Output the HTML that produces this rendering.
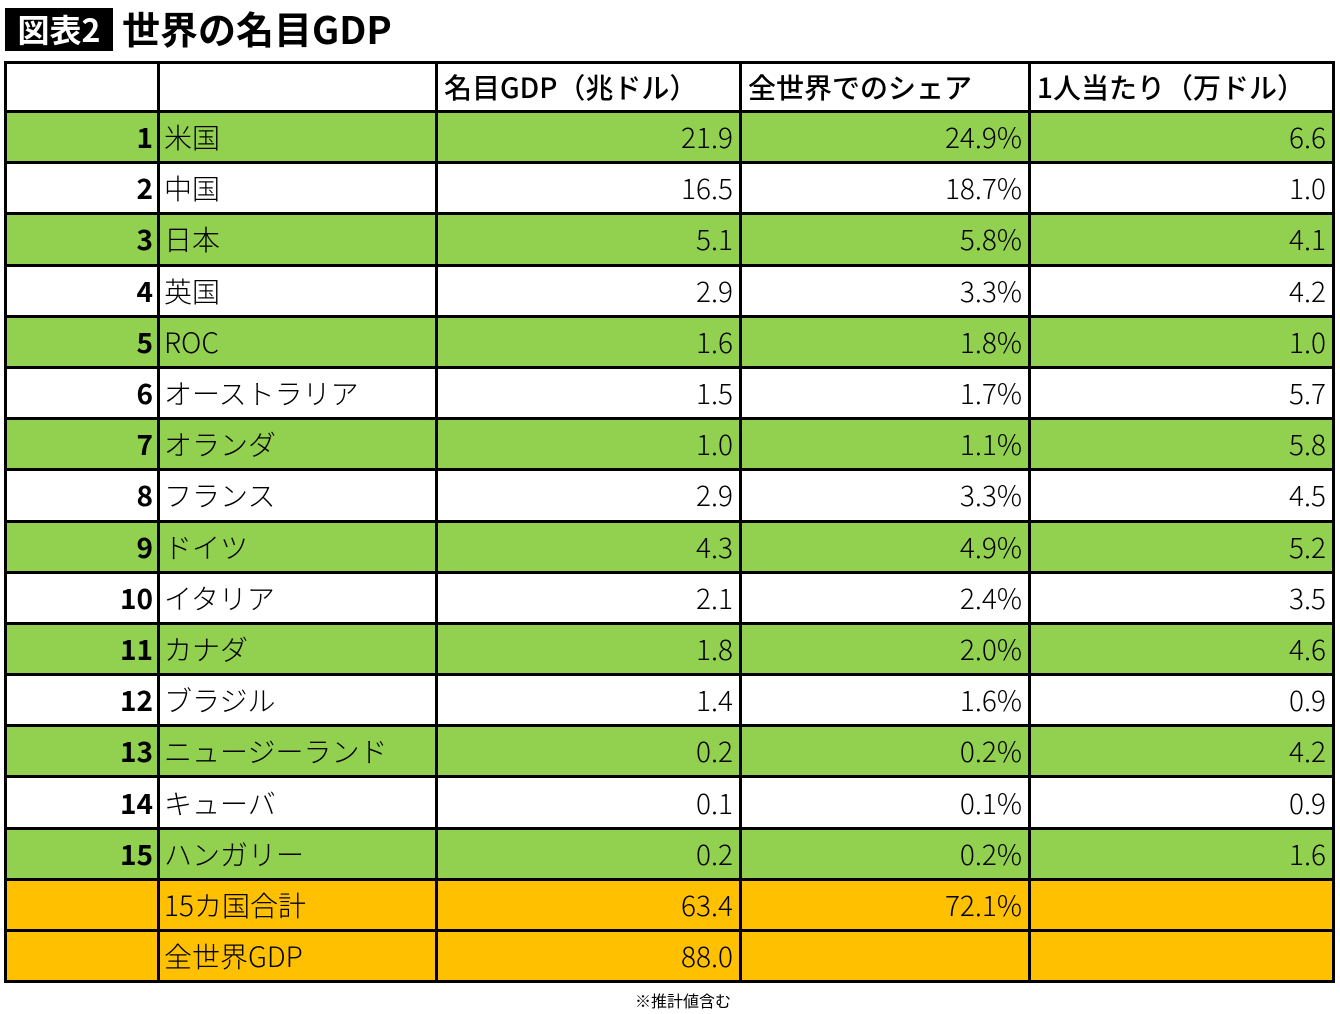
<!DOCTYPE html>
<html><head><meta charset="utf-8">
<style>
body{margin:0;width:1340px;height:1014px;background:#fff;font-family:"Liberation Sans","Noto Sans CJK JP",sans-serif;position:relative;overflow:hidden}
#title-badge{position:absolute;left:5px;top:8px;width:108px;height:43px;background:#000;color:#fff;font-size:32px;font-weight:bold;line-height:43px;text-align:center;font-family:"Noto Sans CJK JP",sans-serif}
#title{position:absolute;left:122px;top:4px;font-size:38px;font-weight:bold;line-height:48px;font-family:"Noto Sans CJK JP",sans-serif}
table{position:absolute;left:4px;top:61px;border-collapse:collapse;table-layout:fixed;width:1328px}
td{border:3px solid #000;font-size:28px;padding:0 6px;box-sizing:border-box;height:51.2px;font-family:"Noto Sans CJK JP",sans-serif;font-weight:300;white-space:nowrap;overflow:hidden;line-height:40px}
tr.hd td{height:49px;font-weight:500}
td.rk{text-align:right;font-weight:bold;padding-right:4px}
td.num{text-align:right;padding-right:6px}
td.nm{padding-left:4px}
tr.g td{background:#92d050}
tr.o td{background:#ffc000}
#note{position:absolute;left:0;width:1366px;top:988px;text-align:center;font-size:16px;font-family:"Noto Sans CJK JP",sans-serif}
</style></head><body>
<div id="title-badge">図表2</div>
<div id="title">世界の名目GDP</div>
<table id="tbl">
<colgroup><col style="width:153px"><col style="width:278px"><col style="width:304px"><col style="width:289px"><col style="width:304px"></colgroup>
<tbody id="tb">
<tr class="hd"><td></td><td></td><td>名目GDP（兆ドル）</td><td>全世界でのシェア</td><td>1人当たり（万ドル）</td></tr>
</tbody></table>
<div id="note">※推計値含む</div>
<script>
const countries=["米国","中国","日本","英国","ROC","オーストラリア","オランダ","フランス","ドイツ","イタリア","カナダ","ブラジル","ニュージーランド","キューバ","ハンガリー"];
const gdp=["21.9","16.5","5.1","2.9","1.6","1.5","1.0","2.9","4.3","2.1","1.8","1.4","0.2","0.1","0.2"];
const share=["24.9%","18.7%","5.8%","3.3%","1.8%","1.7%","1.1%","3.3%","4.9%","2.4%","2.0%","1.6%","0.2%","0.1%","0.2%"];
const perCapita=["6.6","1.0","4.1","4.2","1.0","5.7","5.8","4.5","5.2","3.5","4.6","0.9","4.2","0.9","1.6"];
const totalLabels=["15カ国合計","全世界GDP"];
const totalGdp=["63.4","88.0"];
const totalShare=["72.1%",""];
const tb=document.getElementById('tb');
function cell(tr,txt,cls,name){const td=document.createElement('td');td.textContent=txt;if(cls)td.className=cls;


tr.appendChild(td);}
countries.forEach((c,i)=>{const tr=document.createElement('tr');if(i%2===0)tr.className='g';


cell(tr,String(i+1),'rk','rank');cell(tr,c,'nm','country');cell(tr,gdp[i],'num','gdp-value');cell(tr,share[i],'num','share-value');cell(tr,perCapita[i],'num','per-capita-value');tb.appendChild(tr);});
totalLabels.forEach((l,i)=>{const tr=document.createElement('tr');tr.className='o';


cell(tr,'','rk','rank');cell(tr,l,'nm','total-label');cell(tr,totalGdp[i],'num','gdp-value');cell(tr,totalShare[i],'num','share-value');cell(tr,'','num','per-capita-value');tb.appendChild(tr);});
</script>
</body></html>
